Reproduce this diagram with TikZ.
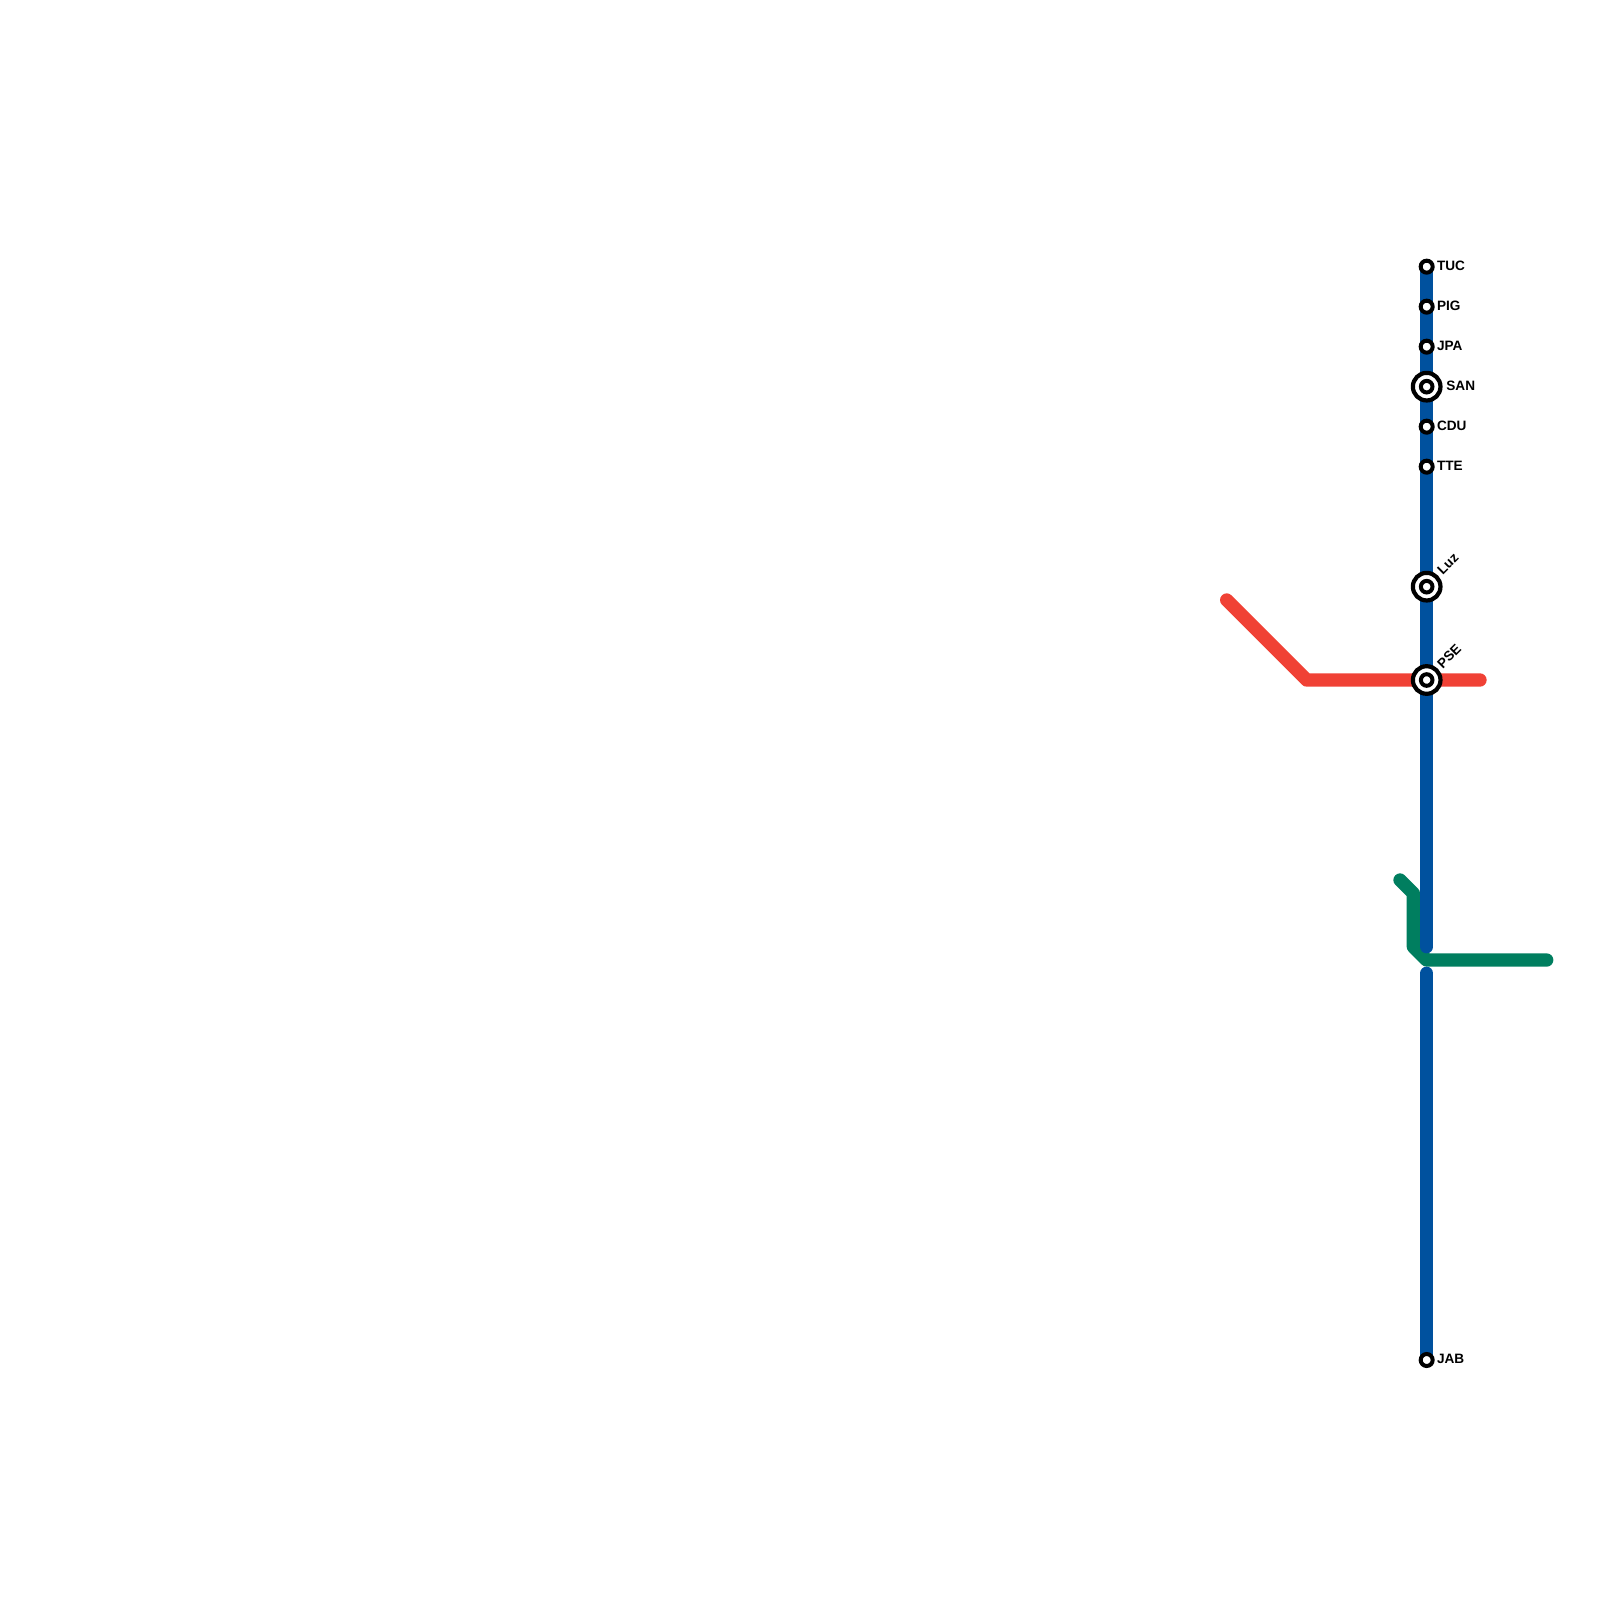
\documentclass[tikz,border=0pt]{standalone}
\usepackage{fontspec}
\setmainfont{Liberation Sans}
\tikzset{
  metro/.style={line width=6.667pt,line cap=round,line join=round},
  smallstn/.style={circle,draw=black,fill=white,line width=2pt,minimum size=6pt,inner sep=0pt},
  bigstn/.style={circle,draw=black,fill=white,line width=2.1pt,minimum size=13.8pt,inner sep=0pt},
  bigdot/.style={circle,draw=black,fill=white,line width=2pt,minimum size=5.8pt,inner sep=0pt},
  lbl/.style={font=\bfseries\fontsize{6.8}{8}\selectfont,inner sep=0pt,anchor=base west,text=black},
}
\definecolor{lineblue}{HTML}{00519E}
\definecolor{linered}{HTML}{F04135}
\definecolor{linegreen}{HTML}{007E5F}
\begin{document}
\begin{tikzpicture}[x=0.5pt,y=-0.5pt]
\useasboundingbox (0,0) rectangle (1600,1600);
% coordinates
\coordinate (r1) at (1226.67,600);
\coordinate (r2) at (1306.67,680);
\coordinate (r3) at (1480,680);
\coordinate (g1) at (1400,880);
\coordinate (g2) at (1413.33,893.33);
\coordinate (g3) at (1413.33,946.67);
\coordinate (g4) at (1426.67,960);
\coordinate (g5) at (1546.67,960);
\coordinate (bEnd) at (1426.67,946.67);
\coordinate (bStart) at (1426.67,973.33);
\coordinate (pTUC) at (1426.67,266.67);
\coordinate (pJAB) at (1426.67,1360);
% lines
\draw[metro,linered] (r1) -- (r2) -- (r3);
\draw[metro,linegreen] (g1) -- (g2) -- (g3) -- (g4) -- (g5);
\draw[metro,lineblue] (pTUC) -- (bEnd);
\draw[metro,lineblue] (bStart) -- (pJAB);
% stations
\node[smallstn] (TUC) at (pTUC) {};
\node[smallstn] (PIG) at (1426.67,306.67) {};
\node[smallstn] (JPA) at (1426.67,346.67) {};
\node[bigstn]   (SAN) at (1426.67,386.67) {};
\node[bigdot]   (SANi) at (SAN.center) {};
\node[smallstn] (CDU) at (1426.67,426.67) {};
\node[smallstn] (TTE) at (1426.67,466.67) {};
\node[bigstn]   (Luz) at (1426.67,586.67) {};
\node[bigdot]   (Luzi) at (Luz.center) {};
\node[bigstn]   (PSE) at (1426.67,680) {};
\node[bigdot]   (PSEi) at (PSE.center) {};
\node[smallstn] (JAB) at (pJAB) {};
% labels
\node[lbl] (tTUC) at (1436.6,270.3) {TUC};
\node[lbl] (tPIG) at (1436.6,310.3) {PIG};
\node[lbl] (tJPA) at (1436.6,350.3) {JPA};
\node[lbl] (tSAN) at (1446,390.3) {SAN};
\node[lbl] (tCDU) at (1436.6,430.3) {CDU};
\node[lbl] (tTTE) at (1436.6,470.3) {TTE};
\node[lbl,rotate=45] (tLuz) at (1442.5,575.5) {Luz};
\node[lbl,rotate=45] (tPSE) at (1442.5,669.5) {PSE};
\node[lbl] (tJAB) at (1436.6,1363.7) {JAB};
\end{tikzpicture}
\end{document}
